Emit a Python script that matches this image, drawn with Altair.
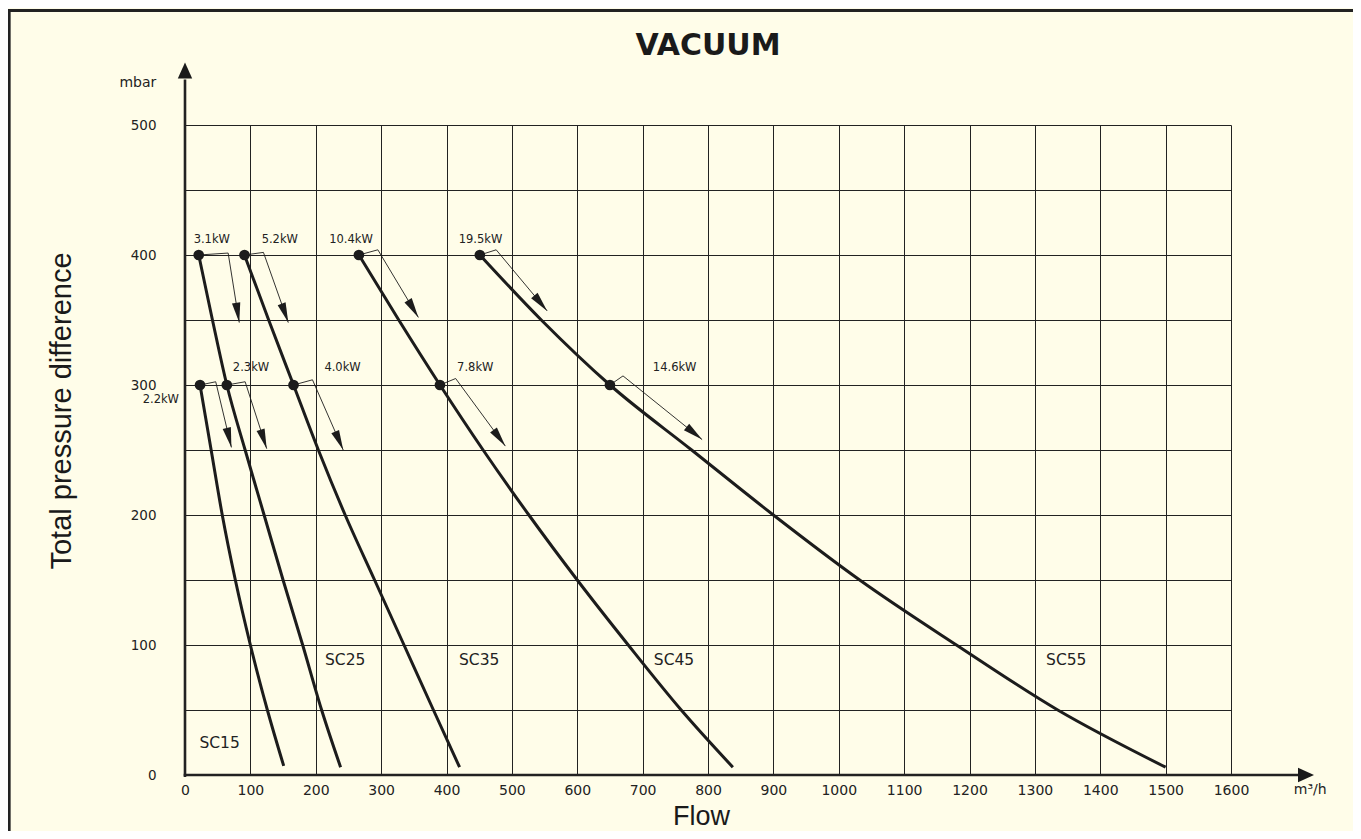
import math
import altair as alt
import pandas as pd

# ---------------- data ----------------
X_TICKS = list(range(0, 1700, 100))
Y_TICKS = list(range(0, 550, 50))

SERIES = ["SC15", "SC25", "SC35", "SC45", "SC55"]
SC15_FLOW = [23, 40, 57, 77, 100, 126, 151]
SC15_PRESS = [300, 250, 200, 150, 100, 50, 7]
SC25_FLOW = [21, 42, 64, 92, 121, 150, 180, 209, 238]
SC25_PRESS = [400, 350, 300, 250, 200, 150, 100, 50, 6]
SC35_FLOW = [91, 128, 166, 204, 245, 290, 335, 380, 420]
SC35_PRESS = [400, 350, 300, 250, 200, 150, 100, 50, 6]
SC45_FLOW = [266, 327, 390, 456, 526, 600, 678, 759, 838]
SC45_PRESS = [400, 350, 300, 250, 200, 150, 100, 50, 6]
SC55_FLOW = [451, 545, 650, 775, 900, 1032, 1180, 1335, 1500]
SC55_PRESS = [400, 350, 300, 250, 200, 150, 100, 50, 6]

SERIES_LABEL_FLOW = [53, 245, 450, 748, 1348]
SERIES_LABEL_PRESS = [21, 85, 85, 85, 85]

POWER = ["3.1kW", "5.2kW", "10.4kW", "19.5kW", "2.2kW", "2.3kW", "4.0kW", "7.8kW", "14.6kW"]
POWER_FLOW = [21, 91, 266, 451, 23, 64, 166, 390, 650]
POWER_PRESS = [400, 400, 400, 400, 300, 300, 300, 300, 300]
POWER_LABEL_FLOW = [41, 145, 254, 452, -37, 101, 241, 444, 749]
POWER_LABEL_PRESS = [409, 409, 409, 409, 286.5, 311, 311, 311, 311]
ARROW_KNEE_FLOW = [66, 120, 295, 476, 47, 92, 195, 414, 670]
ARROW_KNEE_PRESS = [401.5, 402, 404, 404, 302.5, 302.5, 304, 305, 307]
ARROW_TIP_FLOW = [83, 158, 357, 554, 71, 125, 242, 490, 791]
ARROW_TIP_PRESS = [348, 348, 352, 357, 252, 251, 250, 253, 258]

TITLE = "VACUUM"
X_TITLE = "Flow"
Y_TITLE = "Total pressure difference"
X_UNIT = "m³/h"
Y_UNIT = "mbar"

# ---------------- layout ----------------
W, H = 1046, 650
X_DOMAIN = [0, 1600]
Y_DOMAIN = [0, 500]
PX_X = W / (X_DOMAIN[1] - X_DOMAIN[0])
PX_Y = H / (Y_DOMAIN[1] - Y_DOMAIN[0])
INK = "#1c1c1c"
BG = "#FFFDE9"
FONT_WIDE = "DejaVu Sans"
FONT_ARIAL = "Liberation Sans"

xs = alt.Scale(domain=X_DOMAIN, nice=False, zero=False)
ys = alt.Scale(domain=Y_DOMAIN, nice=False, zero=False)

x_axis = alt.Axis(values=X_TICKS, format="d", grid=True, gridColor="#222", gridWidth=1,
                  domain=False, ticks=False, tickSize=0, labelFont=FONT_WIDE,
                  labelFontSize=14, labelColor="#222", labelPadding=19,
                  labelBaseline="alphabetic", labelFlush=False, labelOverlap=False,
                  title=None)
y_axis = alt.Axis(values=Y_TICKS, format="d", grid=True, gridColor="#222", gridWidth=1,
                  domain=False, ticks=False, tickSize=0, labelFont=FONT_WIDE,
                  labelFontSize=13.5, labelColor="#222", labelPadding=29,
                  labelBaseline="middle", labelFlush=False, labelOverlap=False,
                  labelExpr="datum.value % 100 === 0 ? datum.label : ''",
                  title=None)


def X(f="x"):
    return alt.X(f"{f}:Q", scale=xs, axis=x_axis)


def Y(f="y"):
    return alt.Y(f"{f}:Q", scale=ys, axis=y_axis)


# curves
rows = []
for name, fl, pr in zip(SERIES,
                        [SC15_FLOW, SC25_FLOW, SC35_FLOW, SC45_FLOW, SC55_FLOW],
                        [SC15_PRESS, SC25_PRESS, SC35_PRESS, SC45_PRESS, SC55_PRESS]):
    for a, b in zip(fl, pr):
        rows.append({"series": name, "x": a, "y": b})
curves_df = pd.DataFrame(rows)

curves = alt.Chart(curves_df).mark_line(
    interpolate="monotone", strokeWidth=3, color=INK
).encode(x=X(), y=Y(), detail="series:N", order=alt.Order("x:Q"))

# annotation polylines (dot -> knee -> tip)
ann_rows = []
for i, name in enumerate(POWER):
    pts = [(POWER_FLOW[i], POWER_PRESS[i]),
           (ARROW_KNEE_FLOW[i], ARROW_KNEE_PRESS[i]),
           (ARROW_TIP_FLOW[i], ARROW_TIP_PRESS[i])]
    for k, (a, b) in enumerate(pts):
        ann_rows.append({"id": name, "k": k, "x": a, "y": b})
ann_df = pd.DataFrame(ann_rows)
ann_lines = alt.Chart(ann_df).mark_line(strokeWidth=0.9, color=INK).encode(
    x=X(), y=Y(), detail="id:N", order=alt.Order("k:Q"))

# arrowheads
head_rows = []
for i, name in enumerate(POWER):
    dx = (ARROW_TIP_FLOW[i] - ARROW_KNEE_FLOW[i]) * PX_X
    dy = -(ARROW_TIP_PRESS[i] - ARROW_KNEE_PRESS[i]) * PX_Y
    ang = math.degrees(math.atan2(dy, dx)) % 360
    head_rows.append({"id": name, "x": ARROW_TIP_FLOW[i], "y": ARROW_TIP_PRESS[i], "angle": ang})
head_df = pd.DataFrame(head_rows)
ARROW_PATH = "M0,0L-2,-0.42L-2,0.42Z"
heads = alt.Chart(head_df).mark_point(
    shape=ARROW_PATH, filled=True, size=400, opacity=1, color=INK, strokeWidth=0
).encode(x=X(), y=Y(), angle=alt.Angle("angle:Q", scale=None))

# dots
dots_df = pd.DataFrame({"id": POWER, "x": POWER_FLOW, "y": POWER_PRESS})
dots = alt.Chart(dots_df).mark_circle(size=115, opacity=1, color=INK).encode(x=X(), y=Y())

# power labels
plab_df = pd.DataFrame({"t": POWER, "x": POWER_LABEL_FLOW, "y": POWER_LABEL_PRESS})
plabels = alt.Chart(plab_df).mark_text(
    font=FONT_WIDE, fontSize=11.5, color="#222", align="center", baseline="alphabetic"
).encode(x=X(), y=Y(), text="t:N")

# series labels
slab_df = pd.DataFrame({"t": SERIES, "x": SERIES_LABEL_FLOW, "y": SERIES_LABEL_PRESS})
slabels = alt.Chart(slab_df).mark_text(
    font=FONT_WIDE, fontSize=15.5, color="#222", align="center", baseline="alphabetic"
).encode(x=X(), y=Y(), text="t:N")

# axis lines with arrows
X_AXIS_END = 1703
X_AXIS_TIP = 1727
Y_AXIS_END = 535
Y_AXIS_TIP = 548
axl_df = pd.DataFrame({"x": [-2, 0], "y": [0, -1.5], "x2": [X_AXIS_END, 0], "y2": [0, Y_AXIS_END]})
axis_lines = alt.Chart(axl_df).mark_rule(strokeWidth=2.6, color="#222").encode(
    x=X(), y=Y(), x2="x2:Q", y2="y2:Q")
axa_df = pd.DataFrame({"x": [X_AXIS_TIP, 0], "y": [0, Y_AXIS_TIP], "angle": [0, 270]})
AXIS_ARROW_PATH = "M0,0L-2,-0.9L-2,0.9Z"
axis_arrows = alt.Chart(axa_df).mark_point(
    shape=AXIS_ARROW_PATH, filled=True, size=256, opacity=1, color="#1a1a1a", strokeWidth=0
).encode(x=X(), y=Y(), angle=alt.Angle("angle:Q", scale=None))

# titles and units
title_df = pd.DataFrame({"t": [TITLE], "x": [800], "y": [554]})
title = alt.Chart(title_df).mark_text(
    font=FONT_WIDE, fontSize=30, fontWeight="bold", color="#1a1a1a",
    align="center", baseline="alphabetic"
).encode(x=X(), y=Y(), text="t:N")

xt_df = pd.DataFrame({"t": [X_TITLE], "x": [790], "y": [-38.5]})
xtitle = alt.Chart(xt_df).mark_text(
    font=FONT_ARIAL, fontSize=27, color="#1a1a1a", align="center", baseline="alphabetic"
).encode(x=X(), y=Y(), text="t:N")

yt_df = pd.DataFrame({"t": [Y_TITLE], "x": [-174], "y": [280]})
ytitle = alt.Chart(yt_df).mark_text(
    font=FONT_ARIAL, fontSize=29, color="#1a1a1a", align="center",
    baseline="alphabetic", angle=270
).encode(x=X(), y=Y(), text="t:N")

xu_df = pd.DataFrame({"t": [X_UNIT], "x": [1696], "y": [-14.6]})
xunit = alt.Chart(xu_df).mark_text(
    font=FONT_WIDE, fontSize=14, color="#222", align="left", baseline="alphabetic"
).encode(x=X(), y=Y(), text="t:N")

yu_df = pd.DataFrame({"t": [Y_UNIT], "x": [-44], "y": [529]})
yunit = alt.Chart(yu_df).mark_text(
    font=FONT_WIDE, fontSize=14, color="#222", align="right", baseline="alphabetic"
).encode(x=X(), y=Y(), text="t:N")

# frame: left and top edges (the others fall outside the picture)
frame_df = pd.DataFrame({"x": [-269, -271], "y": [-200, 588], "x2": [-269, 2100], "y2": [588, 588]})
frame = alt.Chart(frame_df).mark_rule(stroke="#222", strokeWidth=3).encode(
    x=X(), y=Y(), x2="x2:Q", y2="y2:Q")

chart = alt.layer(
    curves, ann_lines, heads, dots, plabels, slabels,
    axis_lines, axis_arrows, title, xtitle, ytitle, xunit, yunit, frame
).properties(
    width=W, height=H,
    autosize=alt.AutoSizeParams(type="none"),
    padding={"left": 177, "top": 117, "right": 122, "bottom": 56},
    background=BG,
).configure_view(strokeWidth=0)

chart.save("out.html", embed_options={"renderer": "svg", "actions": False})
